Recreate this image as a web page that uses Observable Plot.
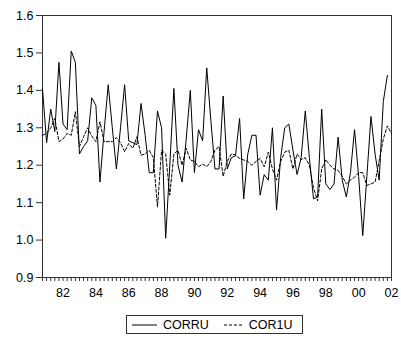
<!DOCTYPE html>
<html>
<head>
<meta charset="utf-8">
<script src="https://cdn.jsdelivr.net/npm/d3@7"></script>
<script src="https://cdn.jsdelivr.net/npm/@observablehq/plot@0.6"></script>
<style>
  body { margin: 0; background: #fff; font-family: "Liberation Sans", Arial, sans-serif; }
  #legend { margin: 15px 0 0 126px; width: 175px; height: 17px; border: 1px solid #333;
            display: flex; align-items: center; font-size: 12.5px; color: #000; box-sizing: content-box; }
  #legend svg { display: block; }
</style>
</head>
<body>
<div id="chart"></div>
<div id="legend">
  <svg width="25" height="10" style="margin-left:5px"><line x1="0" x2="25" y1="5" y2="5" stroke="#000" stroke-width="1"/></svg>
  <span style="margin-left:6px">CORRU</span>
  <svg width="20" height="10" style="margin-left:15px"><line x1="0" x2="20" y1="5" y2="5" stroke="#000" stroke-width="1" stroke-dasharray="3,2"/></svg>
  <span style="margin-left:5px">COR1U</span>
</div>
<script>
// Quarterly observations, first period 1980Q4
const startYear = 1980.75;
const seriesNames = ["CORRU", "COR1U"];
const corru = [1.405,1.26,1.35,1.29,1.475,1.31,1.295,1.505,1.475,1.23,
 1.25,1.265,1.38,1.36,1.155,1.29,1.415,1.30,1.19,1.30,
 1.415,1.265,1.26,1.255,1.365,1.28,1.18,1.18,1.345,1.30,
 1.005,1.20,1.405,1.20,1.155,1.27,1.40,1.18,1.295,1.265,
 1.46,1.32,1.19,1.19,1.385,1.19,1.22,1.225,1.325,1.11,
 1.23,1.28,1.28,1.12,1.175,1.16,1.30,1.08,1.22,1.30,
 1.31,1.24,1.175,1.22,1.345,1.22,1.11,1.115,1.35,1.15,
 1.135,1.15,1.275,1.16,1.115,1.18,1.295,1.17,1.012,1.17,
 1.33,1.23,1.16,1.37,1.44,null];
const cor1u = [1.28,1.285,1.30,1.325,1.263,1.27,1.285,1.28,1.343,1.25,
 1.276,1.30,1.278,1.263,1.316,1.263,1.263,1.263,1.274,1.26,
 1.236,1.258,1.245,1.276,1.227,1.23,1.24,1.22,1.088,1.24,
 1.23,1.12,1.23,1.24,1.20,1.245,1.214,1.21,1.196,1.203,
 1.196,1.21,1.24,1.25,1.17,1.21,1.23,1.227,1.218,1.214,
 1.21,1.20,1.21,1.218,1.196,1.235,1.19,1.16,1.21,1.235,
 1.24,1.19,1.23,1.215,1.22,1.2,1.14,1.105,1.19,1.215,
 1.2,1.19,1.186,1.17,1.15,1.16,1.168,1.18,1.18,1.146,
 1.15,1.155,1.212,1.27,1.305,1.285];
const yTicks = [0.9, 1.0, 1.1, 1.2, 1.3, 1.4, 1.5, 1.6];
const xLabelYears = [1982, 1984, 1986, 1988, 1990, 1992, 1994, 1996, 1998, 2000, 2002];

const rows = corru.map((v, i) => ({t: startYear + i * 0.25, corru: v, cor1u: cor1u[i]}));
const quarterTicks = rows.map(r => r.t);

const chart = Plot.plot({
  width: 401,
  height: 300,
  marginLeft: 42,
  marginRight: 10,
  marginTop: 15,
  marginBottom: 23,
  style: {fontFamily: "'Liberation Sans', Arial, sans-serif", fontSize: "12.5px", background: "#fff", color: "#000"},
  x: {domain: [startYear, startYear + (rows.length - 1) * 0.25]},
  y: {domain: [0.9, 1.6]},
  marks: [
    Plot.frame({stroke: "#333"}),
    Plot.axisY({ticks: yTicks, tickSize: 6, tickPadding: 3, tickFormat: d3.format(".1f"), label: null, stroke: "#333"}),
    Plot.axisX({ticks: quarterTicks, tickSize: 4, tickFormat: () => "", label: null, stroke: "#333"}),
    Plot.axisX({ticks: xLabelYears, tickSize: 0, tickPadding: 11, tickFormat: d => String(Math.round(d) % 100).padStart(2, "0"), label: null}),
    Plot.line(rows, {x: "t", y: "corru", stroke: "#000", strokeWidth: 1}),
    Plot.line(rows, {x: "t", y: "cor1u", stroke: "#000", strokeWidth: 1, strokeDasharray: "3,2"})
  ]
});
document.getElementById("chart").appendChild(chart);
</script>
</body>
</html>
